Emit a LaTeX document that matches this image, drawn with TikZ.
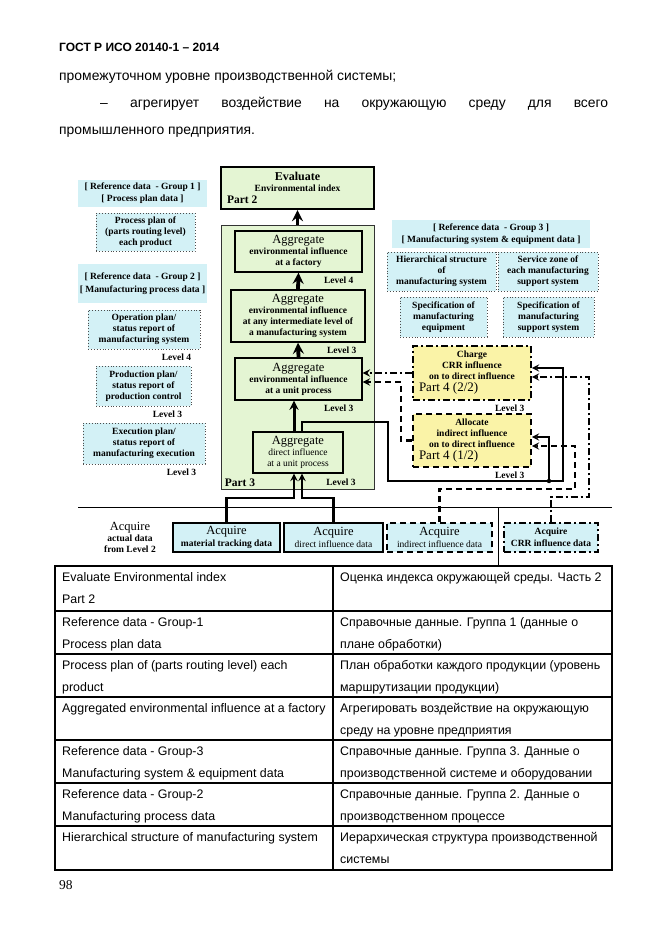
\documentclass[tikz,border=0pt]{standalone}
\usepackage{fontspec}
\setmainfont{Liberation Serif}
\setsansfont{Liberation Sans}
\usetikzlibrary{arrows,positioning}
\definecolor{partgreen}{HTML}{E4F5D3}
\definecolor{refcyan}{HTML}{D3F1F6}
\definecolor{partyellow}{HTML}{FAF3A7}
\newcommand\boxtitle{\mdseries\fontsize{12.5}{11}\selectfont}
\newcommand\boxsub{\bfseries\fontsize{9.5}{11}\selectfont}
\newcommand\partfont{\bfseries\fontsize{11.5}{12}\selectfont}
\newcommand\partfourfont{\mdseries\fontsize{13}{13}\selectfont}
\newcommand\pagefont{\sffamily\fontsize{13.9}{16}\selectfont}
\newcommand\tabfont{\sffamily\fontsize{12.4}{22}\selectfont}
\tikzset
{
    pagetext/.style = {anchor=base west, inner sep=0pt, font=\pagefont},
    tabtext/.style  = {anchor=north west, inner sep=0pt, align=left, font=\tabfont},
    tabline/.style  = {line width=1.5pt},
    evalbox/.style  = {rectangle, draw=black, line width=2.2pt, fill=partgreen, align=center, font=\boxsub, inner sep=0pt},
    partbox/.style  = {rectangle, draw=black!80, line width=0.8pt, fill=partgreen},
    aggbox/.style   = {rectangle, draw=black, line width=1.4pt, fill=partgreen, align=center, font=\boxsub, inner sep=0pt},
    refhead/.style  = {rectangle, fill=refcyan, align=center, font=\boxsub, inner sep=0pt},
    refbox/.style   = {rectangle, draw=black!70, dotted, line width=0.9pt, fill=refcyan, align=center, font=\boxsub, inner sep=0pt},
    partfour/.style = {rectangle, draw=black, line width=1.6pt, fill=partyellow, align=center, font=\boxsub, inner sep=0pt},
    acqbox/.style   = {rectangle, draw=black, line width=1.2pt, fill=refcyan, align=center, font=\boxsub, inner sep=0pt},
    lvltext/.style  = {font=\boxsub, inner sep=0pt},
    partlabel/.style= {font=\partfont, inner sep=0pt, anchor=west},
    dashborder/.style = {dash pattern=on 6pt off 4pt},
    dotborder/.style  = {dash pattern=on 7pt off 3pt on 2pt off 3pt},
    upflow/.style   = {line width=3.8pt, ->, >=stealth},
    flow/.style     = {line width=2.2pt, ->, >=stealth},
    dashflow/.style = {flow, dashborder},
    dotflow/.style  = {flow, dotborder}
}

\begin{document}
\begin{tikzpicture}[x=1pt, y=-1pt]
  \newcommand\LEVELDX{-24}
  \newcommand\LEVELDY{7.5}
  \useasboundingbox (0,0) rectangle (661,935);
  \fill[white] (0,0) rectangle (661,935);

  % page text
  \node (head)  [pagetext, font=\sffamily\bfseries\fontsize{12}{14}\selectfont] at (59, 51) {ГОСТ Р ИСО 20140-1 – 2014};
  \node (line1) [pagetext] at (59, 80.5)  {промежуточном уровне производственной системы;};
  \node (line2) [pagetext] at (100, 107.5) {\makebox[508pt][s]{– агрегирует воздействие на окружающую среду для всего}};
  \node (line3) [pagetext] at (59, 134.5) {промышленного предприятия.};

  % left: reference data groups 1 and 2
  \node (grp1)  [refhead, minimum width=129, minimum height=27] at (142.5, 193.5) {[ Reference data~~- Group 1 ]\\[1pt]{}[ Process plan data ]};
  \node (pplan) [refbox, minimum width=99, minimum height=38]   at (145.5, 232)   {Process plan of\\(parts routing level)\\each product};
  \node (grp2)  [refhead, minimum width=129, minimum height=39] at (142.5, 283.5) {[ Reference data~~- Group 2 ]\\[2pt]{}[ Manufacturing process data ]};
  \node (oplan) [refbox, minimum width=112, minimum height=39]  at (144, 329.5)   {Operation plan/\\status report of\\manufacturing system};
  \node (prod)  [refbox, minimum width=95, minimum height=40]   at (143.5, 386)   {Production plan/\\status report of\\production control};
  \node (exec)  [refbox, minimum width=122, minimum height=41]  at (144, 443.5)   {Execution plan/\\status report of\\manufacturing execution};
  \node (lvo)   [lvltext] at ([shift=({\LEVELDX, \LEVELDY})]oplan.south east) {Level 4};
  \node (lvp)   [lvltext] at ([shift=({\LEVELDX, \LEVELDY})]prod.south east)  {Level 3};
  \node (lve)   [lvltext] at ([shift=({\LEVELDX, \LEVELDY})]exec.south east)  {Level 3};

  % middle: part 2 and part 3
  \node (eval)  [evalbox, minimum width=153, minimum height=42] at (297.5, 188)
        {{\bfseries\fontsize{12}{12}\selectfont Evaluate}\\Environmental index\\[1pt]\makebox[141pt][l]{\partfont Part 2}};
  \node (p3)    [partbox, minimum width=153, minimum height=264] at (297.5, 357) {};
  \node (aggf)  [aggbox, minimum width=127, minimum height=41] at (298.5, 251.5) {{\boxtitle Aggregate}\\environmental influence\\at a factory};
  \node (aggi)  [aggbox, minimum width=134, minimum height=52] at (298, 316)     {{\boxtitle Aggregate}\\environmental influence\\at any intermediate level of\\a manufacturing system};
  \node (aggu)  [aggbox, minimum width=127, minimum height=42] at (298.5, 379)   {{\boxtitle Aggregate}\\environmental influence\\at a unit process};
  \node (aggd)  [aggbox, minimum width=90, minimum height=41]  at (298, 452.5)   {{\boxtitle Aggregate}\\{\mdseries direct influence}\\{\mdseries at a unit process}};
  \node (lvf)   [lvltext] at ([shift=({\LEVELDX, \LEVELDY})]aggf.south east) {Level 4};
  \node (lvi)   [lvltext] at ([shift=({\LEVELDX, \LEVELDY})]aggi.south east) {Level 3};
  \node (lvu)   [lvltext] at ([shift=({\LEVELDX, \LEVELDY})]aggu.south east) {Level 3};
  \node (p3lbl) [partlabel] at ([shift=({4, -7})]p3.south west) {Part 3};
  \node (lvd)   [lvltext] at ([shift=({-33.5, -7})]p3.south east) {Level 3};

  % right: reference data group 3 and part 4
  \node (grp3)    [refhead, minimum width=198, minimum height=28] at (491, 234)     {[ Reference data~~- Group 3 ]\\[1pt]{}[ Manufacturing system \& equipment data ]};
  \node (hier)    [refbox, minimum width=109, minimum height=39]  at (441.5, 271.5) {Hierarchical structure\\of\\manufacturing system};
  \node (serv)    [refbox, minimum width=100, minimum height=39]  at (548, 271.5)   {Service zone of\\each manufacturing\\support system};
  \node (speceq)  [refbox, minimum width=87, minimum height=40]   at (443.5, 317)   {Specification of\\manufacturing\\equipment};
  \node (specsup) [refbox, minimum width=91, minimum height=40]   at (548.5, 317)   {Specification of\\manufacturing\\support system};
  \node (charge)  [partfour, dotborder, minimum width=118, minimum height=54] at (472, 373)
        {Charge\\CRR influence\\on to direct influence\\[1pt]\makebox[106pt][l]{\partfourfont Part 4 (2/2)}};
  \node (alloc)   [partfour, dashborder, minimum width=118, minimum height=53] at (472, 440.5)
        {Allocate\\indirect influence\\on to direct influence\\[1pt]\makebox[106pt][l]{\partfourfont Part 4 (1/2)}};
  \node (lvc)     [lvltext] at ([shift=({-22, 7})]charge.south east) {Level 3};
  \node (lva)     [lvltext] at ([shift=({-22, 7})]alloc.south east)  {Level 3};

  % bottom: acquire
  \coordinate (sepl) at (78, 507);
  \coordinate (sepr) at (612, 507);
  \coordinate (sepb) at (498, 566);
  \draw[line width=1pt] (sepl) -- (sepr);
  \draw[line width=1pt] (sepb |- sepl) -- (sepb);
  \node (acq)    [align=center, font=\boxsub, inner sep=0pt] at (130, 537) {{\boxtitle Acquire}\\actual data\\from Level 2};
  \node (acqmat) [acqbox, minimum width=107, minimum height=29] at (226.5, 537.5) {{\boxtitle Acquire}\\[1pt]material tracking data};
  \node (acqdir) [acqbox, minimum width=99, minimum height=29]  at (333.5, 537.5) {{\boxtitle Acquire}\\[1pt]{\mdseries direct influence data}};
  \node (acqind) [acqbox, dashborder, minimum width=105, minimum height=29] at (439.5, 537.5) {{\boxtitle Acquire}\\[1pt]{\mdseries indirect influence data}};
  \node (acqcrr) [acqbox, dotborder, minimum width=94, minimum height=29]  at (551, 537.5) {Acquire\\[1pt]CRR influence data};

  % connectors
  \coordinate (dup)   at ([xshift=-4pt]aggd.north);
  \coordinate (mbend) at (294, 498);
  \coordinate (rbend) at (302, 498);
  \coordinate (dbend) at (388, 422);
  \coordinate (dright) at (563, 481);
  \coordinate (djoin) at (549, 481);
  \coordinate (ibend) at (575, 489);
  \coordinate (cbend) at (589, 497);
  \coordinate (abend) at (401, 382);

  \path
    (p3.north)   edge[upflow] (eval.south)
    (aggi.north) edge[upflow] (aggf.south)
    (aggu.north) edge[upflow] (aggi.south)
    (dup)        edge[upflow, line width=3pt] (dup |- aggu.south);

  \draw[flow]     (acqmat.north) |- (mbend) -- (mbend |- aggd.south);
  \draw[flow]     (acqdir.north) |- (rbend) -- (rbend |- aggd.south);
  \draw[flow]     (rbend |- aggd.north) |- (dbend) |- (dright) |- ([yshift=5pt]charge.east);
  \draw[flow]     (djoin) |- ([yshift=3.5pt]alloc.east);
  \fill           (djoin) circle (2.2pt);
  \draw[dashflow] (acqind.north) |- (ibend) |- ([yshift=-5.5pt]alloc.east);
  \draw[dotflow]  (acqcrr.north) |- (cbend) |- ([yshift=-4pt]charge.east);
  \draw[dotflow]  (charge.west) -- (charge.west -| aggu.east);
  \draw[dashflow] (alloc.west) -| (abend) -- (abend -| aggu.east);

  % table
  \draw[tabline] (55, 566) rectangle (612, 870);
  \draw[tabline] (333, 566) -- (333, 870);
  \draw[tabline] (55, 611) -- (612, 611)
                 (55, 654) -- (612, 654)
                 (55, 697) -- (612, 697)
                 (55, 740) -- (612, 740)
                 (55, 783) -- (612, 783)
                 (55, 826) -- (612, 826);
  \node (t1l) [tabtext] at (62, 572.5)  {Evaluate Environmental index\\Part 2};
  \node (t1r) [tabtext] at (340, 572.5) {Оценка индекса окружающей среды. Часть 2};
  \node (t2l) [tabtext] at (62, 617.5)  {Reference data - Group-1\\Process plan data};
  \node (t2r) [tabtext] at (340, 617.5) {Справочные данные. Группа 1 (данные о\\плане обработки)};
  \node (t3l) [tabtext] at (62, 660.5)  {Process plan of (parts routing level) each\\product};
  \node (t3r) [tabtext] at (340, 660.5) {План обработки каждого продукции (уровень\\маршрутизации продукции)};
  \node (t4l) [tabtext] at (62, 703.5)  {Aggregated environmental influence at a factory};
  \node (t4r) [tabtext] at (340, 703.5) {Агрегировать воздействие на окружающую\\среду на уровне предприятия};
  \node (t5l) [tabtext] at (62, 746.5)  {Reference data - Group-3\\Manufacturing system \& equipment data};
  \node (t5r) [tabtext] at (340, 746.5) {Справочные данные. Группа 3. Данные о\\производственной системе и оборудовании};
  \node (t6l) [tabtext] at (62, 789.5)  {Reference data - Group-2\\Manufacturing process data};
  \node (t6r) [tabtext] at (340, 789.5) {Справочные данные. Группа 2. Данные о\\производственном процессе};
  \node (t7l) [tabtext] at (62, 832.5)  {Hierarchical structure of manufacturing system};
  \node (t7r) [tabtext] at (340, 832.5) {Иерархическая структура производственной\\системы};

  \node (pgno) [anchor=base west, inner sep=0pt, font=\fontsize{13.5}{14}\selectfont] at (59, 889.5) {98};
\end{tikzpicture}
\end{document}
